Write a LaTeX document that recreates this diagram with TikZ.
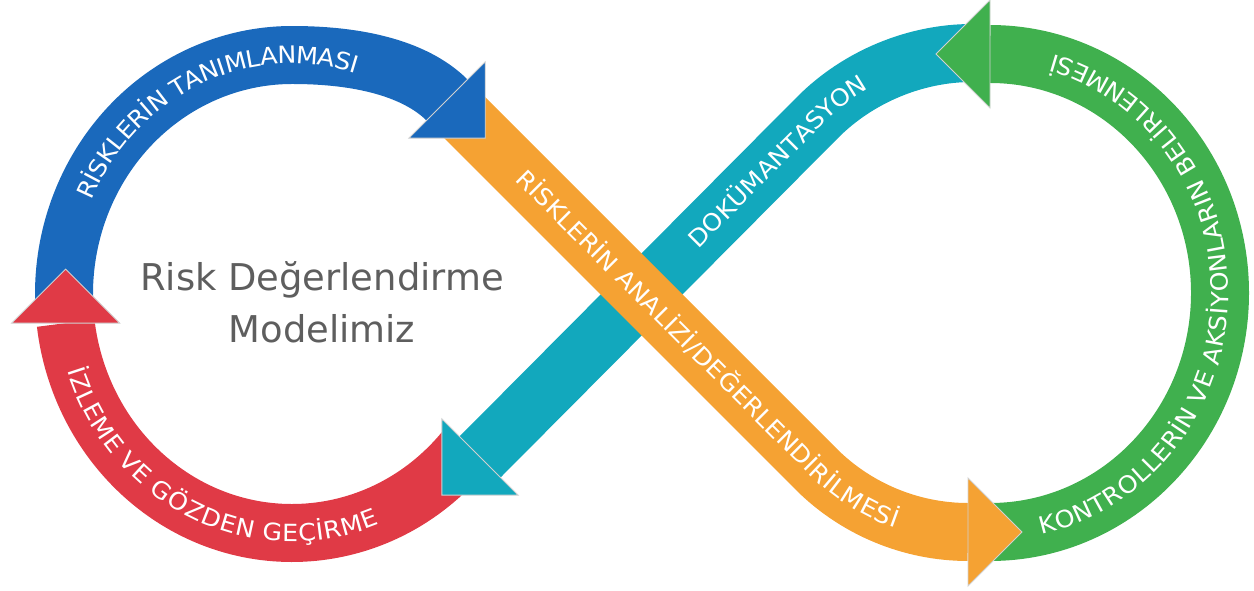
\documentclass[tikz,border=0pt]{standalone}
\usepackage{fontspec}
\setmainfont{DejaVu Sans}
\newfontfamily\bandfont[FakeStretch=1.07]{DejaVu Sans}
\usetikzlibrary{decorations.text}
\definecolor{cblue}{HTML}{1A69BC}
\definecolor{corange}{HTML}{F5A233}
\definecolor{cgreen}{HTML}{40B04E}
\definecolor{cteal}{HTML}{12A8BD}
\definecolor{cred}{HTML}{E03A46}
\definecolor{cgrey}{HTML}{5E5E5E}
\tikzset{
  every picture/.style={x=0.02cm, y=-0.02cm},
  band/.style={draw=#1, line width=1.16cm},
  head/.pic={\path[pic actions] (0,-54) -- (54,0) -- (0,54) -- cycle;},
  headedge/.style={draw=white!82!black, line width=0.5pt},
  bandtext/.style={decorate, decoration={text along path, text color=white, raise=-4.9pt, text align=center,
    text={|\bandfont\fontsize{13.5}{16}\selectfont|#1}}},
  title/.style={font=\fontsize{21}{29.6}\selectfont, text=cgrey, align=center},
}
\begin{document}
\begin{tikzpicture}
  \useasboundingbox (0,0) rectangle (1254,591);
  \coordinate (L) at (292,294);
  \coordinate (R) at (990,293);
  % bands
  \draw[band=cblue] (L) ++(176:228 and 239) arc[start angle=176, end angle=270, x radius=228, y radius=239]
    .. controls (380,55) and (425,78) .. (447,100) coordinate (blueend);
  \draw[band=cgreen] (R) ++(90:230 and 239) arc[start angle=90, end angle=-90, x radius=230, y radius=239] coordinate (greenend);
  \draw[band=cred] (L) ++(41:228 and 239) arc[start angle=41, end angle=173, x radius=228, y radius=239] coordinate (redend);
  \draw[band=cteal] (980,53) -- (972,53) .. controls (915,53) and (858,77) .. (818,117) -- (480,457) coordinate (tealend);
  \draw[band=corange] (452,105) -- (816,469) .. controls (856,509) and (911,532) .. (968,532) coordinate (orangeend);
  % heads
  \pic[fill=cblue, headedge, rotate=-45] at (blueend) {head};
  \pic[fill=corange, headedge] at (orangeend) {head};
  \pic[fill=cgreen, headedge, rotate=180] at (greenend) {head};
  \pic[fill=cteal, headedge, rotate=-135] at (tealend) {head};
  \pic[fill=cred, headedge, rotate=90] at (redend) {head};
  % texts on the bands
  \path[bandtext=RİSKLERİN TANIMLANMASI] (L) ++(195:228 and 239) arc[start angle=195, end angle=296, x radius=228, y radius=239];
  \path[bandtext=İZLEME VE GÖZDEN GEÇİRME] (L) ++(165:228 and 239) arc[start angle=165, end angle=65, x radius=228, y radius=239];
  \path[bandtext=KONTROLLERİN VE AKSİYONLARIN BELİRLENMESİ] (R) ++(85:230 and 239) arc[start angle=85, end angle=-82, x radius=230, y radius=239];
  \path[bandtext=RİSKLERİN ANALİZİ/DEĞERLENDİRİLMESİ, decoration={text align=left}] (521,174) -- (816,469) .. controls (856,509) and (911,532) .. (968,532);
  \path[bandtext=DOKÜMANTASYON, decoration={text align=left}] (692,243) -- (818,117) .. controls (858,77) and (915,53) .. (972,53);
  \node[title] (title) at (322,302) {Risk Değerlendirme\\Modelimiz};
\end{tikzpicture}
\end{document}
